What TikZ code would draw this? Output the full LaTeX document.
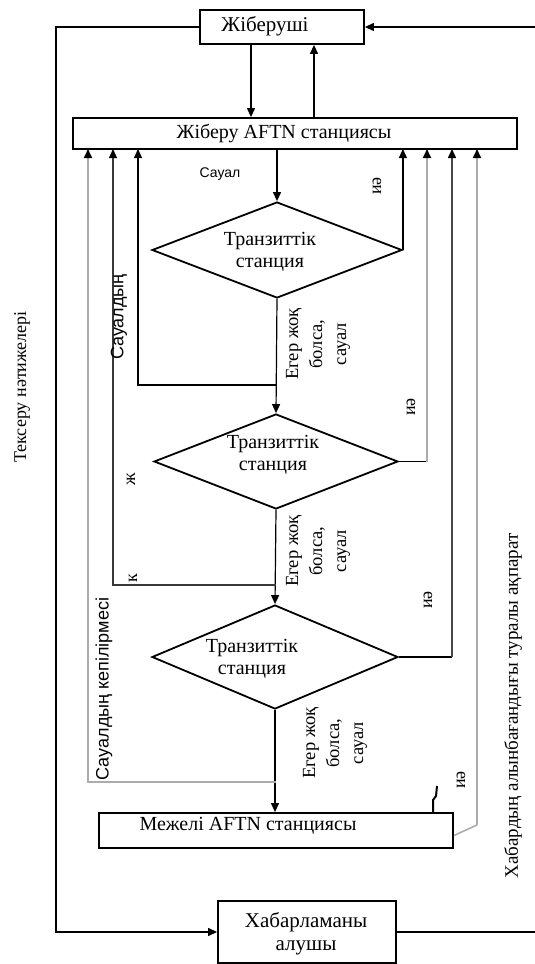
\documentclass[tikz,border=0pt]{standalone}
\usepackage{fontspec}
\setmainfont{Liberation Serif}
\newfontfamily\lsans{Liberation Sans}
\usetikzlibrary{arrows.meta,shapes.geometric,calc}
\begin{document}
\begin{tikzpicture}[x=1pt,y=-1pt,
  box/.style={draw,line width=1.8pt,inner sep=0pt},
  dia/.style={draw,diamond,line width=1.8pt,inner sep=0pt},
  txt/.style={font=\fontsize{20}{22}\selectfont,inner sep=0pt,align=center},
  btxt/.style={font=\fontsize{21}{23}\selectfont,inner sep=0pt,align=center},
  elab/.style={font=\fontsize{18.5}{24}\selectfont,inner sep=0pt,align=center,rotate=90},
  slab/.style={font=\fontsize{18}{22}\selectfont\lsans,inner sep=0pt,align=center,rotate=90},
  rlab/.style={font=\fontsize{18}{21}\selectfont,inner sep=0pt,rotate=90},
  conn/.style={line width=1.2pt},
  tip/.style={-{Triangle[width=8pt,length=9pt,color=black]}},
  arr/.style={conn,tip},
  garr/.style={line width=1.8pt,draw=gray!65,tip},
]
\useasboundingbox (0,0) rectangle (535,964);

% boxes
\node[box,minimum width=164pt,minimum height=34pt] (snd) at (282,27) {};
\node[btxt] (sndt) at (265,26) {Жіберуші};
\node[box,minimum width=444pt,minimum height=31pt] (aftn) at (295,133.5) {};
\node[txt] (aftnt) at (284,133) {Жіберу AFTN станциясы};
\node[box,minimum width=354pt,minimum height=35pt] (mez) at (276,830.5) {};
\node[txt] (mezt) at (248,826) {Межелі AFTN станциясы};
\node[box,minimum width=178pt,minimum height=62pt] (rcv) at (307,932) {};
\node[btxt] (rcvt) at (306,934) {Хабарламаны\\алушы};

% diamonds
\node[dia,minimum width=250pt,minimum height=96pt] (d1) at (277,250) {};
\node[txt] (d1t) at (270,252) {Транзиттік\\станция};
\node[dia,minimum width=244pt,minimum height=95pt] (d2) at (276,461.5) {};
\node[txt] (d2t) at (273,455) {Транзиттік\\станция};
\node[dia,minimum width=246pt,minimum height=104pt] (d3) at (275,657) {};
\node[txt] (d3t) at (252,659) {Транзиттік\\станция};

% coordinates
\coordinate (j1) at (276,385);
\coordinate (j2) at (276,585);
\coordinate (j3) at (276,782);
\coordinate (l1) at (138,149);
\coordinate (l2) at (113,149);
\coordinate (l3) at (88,149);
\coordinate (r1) at (402,149);
\coordinate (r2) at (427,149);
\coordinate (r3) at (452,149);
\coordinate (r4) at (477,149);
\coordinate (tl) at (56,27);
\coordinate (bl) at (56,932);
\coordinate (tr) at (535,27);
\coordinate (br) at (535,932);
\coordinate (mr) at (477,825);
\coordinate (zz) at (433,813);

% sender <-> AFTN
\draw[arr] ([xshift=-31pt]snd.south) -- ([xshift=-31pt]snd.south |- aftn.north);
\draw[arr] ([xshift=32pt]snd.south |- aftn.north) -- ([xshift=32pt]snd.south);

% outer loops
\draw[arr] (snd.west) -- (tl) -- (bl) -- (rcv.west);
\draw[arr] (tr) -- (snd.east);
\draw[conn] (rcv.east) -- (br);

% main flow
\draw[arr] (aftn.south -| d1.north) -- (d1.north);
\draw[arr] (d1.south) -- (d2.north);
\draw[arr] (d2.south) -- (d3.north);
\draw[arr] (d3.south) -- (d3.south |- mez.north);

% left returns
\draw[arr] (j1) -| (l1);
\draw[conn,draw=gray!45!black,tip] (j2) -| (l2);
\draw[garr] (j3) -| (l3);

% right returns
\draw[arr] (d1.east) -- (d1.east |- r1);
\draw[conn] (d2.east) -- (d2.east -| r2);
\draw[garr] (d2.east -| r2) -- (r2);
\draw[conn] (d3.east) -- (d3.east -| r3);
\draw[line width=1.5pt,draw=gray!55!black,tip] (d3.east -| r3) -- (r3);
\draw[line width=1.6pt,draw=gray!65] ([yshift=-5pt]mez.east) -- (mr);
\draw[garr] (mr) -- (r4);

% squiggle
\draw[line width=2pt] (zz) -- ++(0,-13) -- ++(3,-4) -- ++(1,-10);

% labels
\node[font=\fontsize{14}{17}\selectfont\lsans,inner sep=0pt] (sauyal) at (220,174) {Сауал};
\node[rlab] (ia1) at (377,186) {иә};
\node[rlab] (ia2) at (411,407) {иә};
\node[rlab] (ia3) at (428,600) {иә};
\node[rlab] (ia4) at (461,780) {иә};
\node[elab] (eg1) at (318,344) {Егер жоқ\\болса,\\сауал};
\node[elab] (eg2) at (318,551) {Егер жоқ\\болса,\\сауал};
\node[elab] (eg3) at (335,743) {Егер жоқ\\болса,\\сауал};
\node[slab] (sd1) at (119,317) {Сауалдың};
\node[slab] (sd2) at (104,689) {Сауалдың кепілірмесі};
\node[rlab] (zh) at (131,479) {ж};
\node[rlab] (kk) at (133,578) {к};
\node[rlab] (tex) at (22,387) {Тексеру нәтижелері};
\node[rlab,font=\fontsize{19}{21}\selectfont] (hab) at (513,706) {Хабардың алынбағандығы туралы ақпарат};
\end{tikzpicture}
\end{document}
